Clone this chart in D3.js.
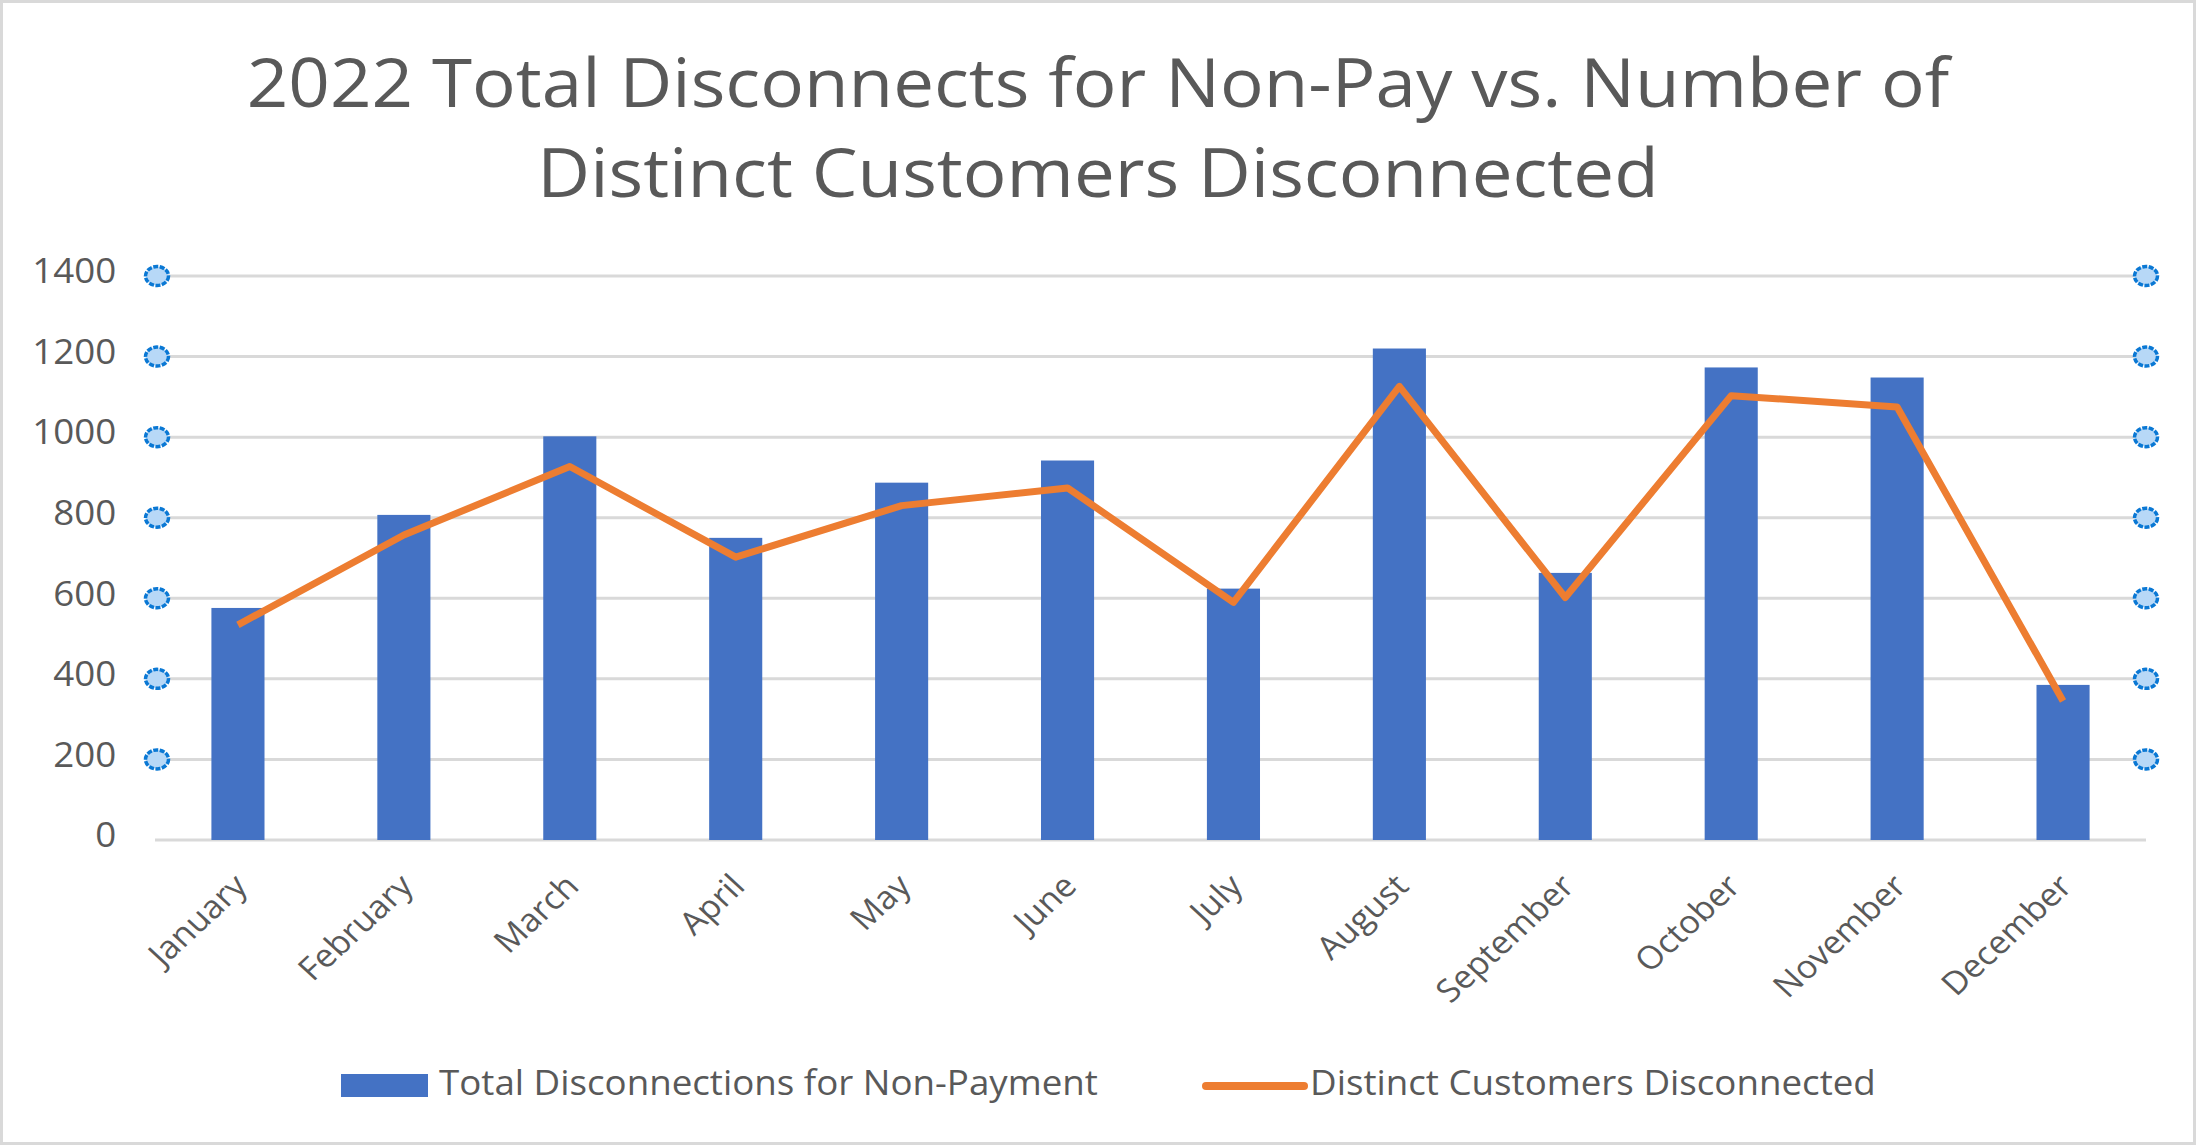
<!DOCTYPE html>
<html>
<head>
<meta charset="utf-8">
<script src="https://cdn.jsdelivr.net/npm/d3@7"></script>
<style>
    body { margin: 0; background: #fff; }
    svg { display: block; }
</style>
</head>
<body>
<div id="chart"></div>
<script>
(function(){

    // data
    var months = ['January', 'February', 'March', 'April', 'May', 'June',
        'July', 'August', 'September', 'October', 'November', 'December'];
    var totalDisconnects = [576, 807, 1002, 750, 887, 942, 624, 1220, 663, 1173, 1148, 385];
    var distinctCustomers = [534, 757, 927, 702, 830, 874, 590, 1126, 602, 1103, 1075, 345];
    var yTicks = [0, 200, 400, 600, 800, 1000, 1200, 1400];
    var titleLines = ['2022 Total Disconnects for Non-Pay vs. Number of', 'Distinct Customers Disconnected'];
    var legendLabels = ['Total Disconnections for Non-Payment', 'Distinct Customers Disconnected'];

    var width = 2196;
    var height = 1145;

    var margin = {
        top: 276,
        bottom: 305,
        left: 155,
        right: 50,
    };

    var barColour = '#4472C4';
    var lineColour = '#ED7D31';
    var gridColour = '#d9d9d9';
    var textColour = '#595959';
    var font = '"Open Sans", "Noto Sans", Arial, sans-serif';
    // the reference picture is a little stretched sideways
    var stretch = 'scale(1.08,1)';

    var svg = d3.select('#chart')
        .append('svg')
            .attr('width', width)
            .attr('height', height)
            .style('font-family', font);

    // chart frame
    svg.append('rect')
        .attr('x', 1.5)
        .attr('y', 1.5)
        .attr('width', width - 3)
        .attr('height', height - 3)
        .attr('fill', '#fff')
        .attr('stroke', gridColour)
        .attr('stroke-width', 3);

    var xScale = d3.scaleBand()
        .domain(months)
        .range([margin.left, width - margin.right])
        .paddingInner(0.68)
        .paddingOuter(0.34);

    var yScale = d3.scaleLinear()
        .domain([0, 1400])
        .range([height - margin.bottom, margin.top]);

    // title
    svg.append('g')
        .attr('class', 'title')
        .selectAll('text')
        .data(titleLines)
        .enter()
        .append('text')
        .attr('transform', function(d, i){
            return 'translate(' + (width / 2) + ',' + (107 + i * 90) + ') scale(1.07,1)';
        })
        .attr('text-anchor', 'middle')
        .attr('font-size', '68px')
        .attr('fill', textColour)
        .text(function(d){
            return d;
        });

    // gridlines
    svg.append('g')
        .attr('class', 'grid')
        .selectAll('line')
        .data(yTicks)
        .enter()
        .append('line')
        .attr('x1', margin.left)
        .attr('x2', width - margin.right)
        .attr('y1', function(d){ return yScale(d); })
        .attr('y2', function(d){ return yScale(d); })
        .attr('stroke', gridColour)
        .attr('stroke-width', 3);

    // y axis labels
    var yAxis = d3.axisLeft(yScale)
        .tickValues(yTicks)
        .tickFormat(d3.format('d'))
        .tickSize(0)
        .tickPadding(36);

    svg.append('g')
        .attr('class', 'y axis')
        .attr('transform', 'translate(' + margin.left + ',0)')
        .call(yAxis)
        .call(function(g){ g.select('.domain').remove(); })
        .selectAll('.tick text')
        .attr('font-size', '34px')
        .attr('font-family', font)
        .attr('fill', textColour)
        .attr('dy', '0.2em')
        .attr('transform', stretch);

    // bars
    svg.append('g')
        .attr('class', 'bars')
        .selectAll('rect')
        .data(totalDisconnects)
        .enter()
        .append('rect')
        .attr('x', function(d, i){ return xScale(months[i]); })
        .attr('width', xScale.bandwidth())
        .attr('y', function(d){ return yScale(d); })
        .attr('height', function(d){ return yScale(0) - yScale(d); })
        .attr('fill', barColour);

    // x axis
    var xAxis = d3.axisBottom(xScale)
        .tickSize(0)
        .tickPadding(0);

    svg.append('g')
        .attr('class', 'x axis')
        .attr('transform', 'translate(0,' + yScale(0) + ')')
        .call(xAxis)
        .call(function(g){ g.select('.domain').remove(); })
        .selectAll('.tick text')
        .attr('font-size', '32px')
        .attr('font-family', font)
        .attr('fill', textColour)
        .attr('text-anchor', 'end')
        .attr('dy', 0)
        .attr('y', 0)
        .attr('transform', 'translate(11,48) ' + stretch + ' rotate(-45)');

    // line series
    var line = d3.line()
        .x(function(d, i){ return xScale(months[i]) + xScale.bandwidth() / 2; })
        .y(function(d){ return yScale(d); });

    svg.append('path')
        .datum(distinctCustomers)
        .attr('class', 'line')
        .attr('d', line)
        .attr('fill', 'none')
        .attr('stroke', lineColour)
        .attr('stroke-width', 7)
        .attr('stroke-linejoin', 'round');

    // selection handles on the (empty) secondary axis
    var handleX = [margin.left + 2, width - margin.right];
    var handles = [];
    handleX.forEach(function(x){
        yTicks.filter(function(t){ return t > 0; }).forEach(function(t){
            handles.push({x: x, v: t});
        });
    });

    svg.append('g')
        .attr('class', 'handles')
        .selectAll('ellipse')
        .data(handles)
        .enter()
        .append('ellipse')
        .attr('cx', function(d){ return d.x; })
        .attr('cy', function(d){ return yScale(d.v); })
        .attr('rx', 11.5)
        .attr('ry', 9.5)
        .attr('fill', '#b7d8f7')
        .attr('stroke', '#0a78d4')
        .attr('stroke-width', 3.5)
        .attr('stroke-dasharray', '5 1.5');

    // legend
    var legend = svg.append('g')
        .attr('class', 'legend');

    legend.append('rect')
        .attr('x', 341)
        .attr('y', 1074)
        .attr('width', 87)
        .attr('height', 23)
        .attr('fill', barColour);

    legend.append('line')
        .attr('x1', 1206)
        .attr('x2', 1304)
        .attr('y1', 1086)
        .attr('y2', 1086)
        .attr('stroke', lineColour)
        .attr('stroke-width', 8)
        .attr('stroke-linecap', 'round');

    legend.selectAll('text')
        .data(legendLabels)
        .enter()
        .append('text')
        .attr('transform', function(d, i){
            return 'translate(' + (i === 0 ? 439 : 1310) + ',1095) ' + stretch;
        })
        .attr('font-size', '34px')
        .attr('fill', textColour)
        .text(function(d){ return d; });

})();
</script>
</body>
</html>
